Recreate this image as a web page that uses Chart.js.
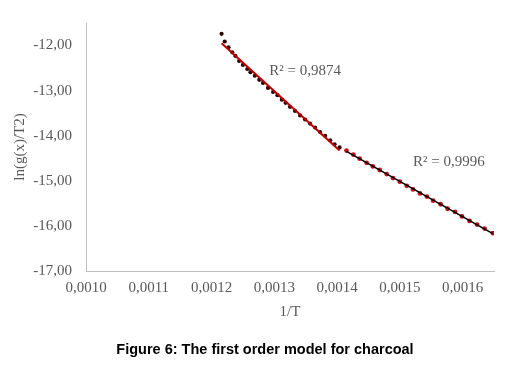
<!DOCTYPE html>
<html>
<head>
<meta charset="utf-8">
<script src="https://cdn.jsdelivr.net/npm/chart.js@4.4.1/dist/chart.umd.min.js"></script>
<style>
  html, body { margin: 0; padding: 0; background: #fff; }
  #wrap { width: 530px; height: 367px; }
</style>
</head>
<body>
<div id="wrap"><canvas id="kineticChart"></canvas></div>
<script>
// data (1/T vs ln(g(x)/T2))
const xHigh = [0.001216, 0.001221, 0.001227, 0.001233, 0.001238, 0.001244, 0.001250, 0.001257, 0.001262, 0.001269,
    0.001276, 0.001282, 0.001290, 0.001298, 0.001305, 0.001312, 0.001318, 0.001325, 0.001333, 0.001341,
    0.001349, 0.001357, 0.001365, 0.001373, 0.001381, 0.001389, 0.001396, 0.001404];
const yHigh = [-11.74, -11.91, -12.04, -12.15, -12.23, -12.34, -12.43, -12.52, -12.59, -12.67,
    -12.76, -12.83, -12.94, -13.03, -13.10, -13.20, -13.27, -13.36, -13.45, -13.55,
    -13.64, -13.73, -13.82, -13.92, -14.00, -14.10, -14.19, -14.26];

const xLow = [0.001415, 0.001426, 0.001436, 0.001447, 0.001457, 0.001468, 0.001479, 0.001489, 0.001500, 0.001511,
    0.001521, 0.001532, 0.001543, 0.001553, 0.001565, 0.001576, 0.001588, 0.001599, 0.001611, 0.001623,
    0.001635, 0.001648];
const yLow = [-14.33, -14.42, -14.51, -14.60, -14.68, -14.76, -14.85, -14.94, -15.02, -15.11,
    -15.19, -15.28, -15.35, -15.44, -15.52, -15.62, -15.69, -15.79, -15.89, -15.97,
    -16.06, -16.16];

// tick labels
const xTicks = [0.0010, 0.0011, 0.0012, 0.0013, 0.0014, 0.0015, 0.0016];
const yTicks = [-17, -16, -15, -14, -13, -12];

// trendline labels and caption
const r2Labels = ['R\u00b2 = 0,9874', 'R\u00b2 = 0,9996'];
const caption = 'Figure 6: The first order model for charcoal';

function toPoints(xs, ys) {
    return xs.map((x, i) => ({ x: x, y: ys[i] }));
}

// least squares line over the series, drawn between its first and last x
function trendLine(xs, ys) {
    var n = xs.length, sx = 0, sy = 0, sxx = 0, sxy = 0;
    for (var i = 0; i < n; i++) {
        sx += xs[i]; sy += ys[i]; sxx += xs[i] * xs[i]; sxy += xs[i] * ys[i];
    }
    var b = (n * sxy - sx * sy) / (n * sxx - sx * sx);
    var a = (sy - b * sx) / n;
    var x0 = xs[0], x1 = xs[n - 1];
    return [{ x: x0, y: a + b * x0 }, { x: x1, y: a + b * x1 }];
}

const grey = '#595959';
const serif = "'Liberation Serif', 'Times New Roman', serif";

// draws the two R2 notes and the figure caption
const notesPlugin = {
    id: 'notes',
    afterDraw(chart) {
        const ctx = chart.ctx;
        const xs = chart.scales.x, ys = chart.scales.y;
        const spots = [[0.001349, -12.57], [0.001578, -14.58]];
        ctx.save();
        ctx.font = '15px ' + serif;
        ctx.fillStyle = grey;
        ctx.textAlign = 'center';
        ctx.textBaseline = 'middle';
        r2Labels.forEach((t, i) => {
            ctx.fillText(t, xs.getPixelForValue(spots[i][0]), ys.getPixelForValue(spots[i][1]));
        });
        ctx.font = "bold 14.5px 'Liberation Sans', Arial, sans-serif";
        ctx.fillStyle = '#000';
        ctx.fillText(caption, chart.width / 2, chart.height - 17);
        ctx.restore();
    }
};

const kineticCtx = document.getElementById('kineticChart');

var kineticChart = new Chart(kineticCtx, {
    type: 'scatter',
    data: {
        datasets: [
            {
                label: 'fit high',
                type: 'line',
                data: trendLine(xHigh, yHigh),
                borderColor: '#c00000',
                borderWidth: 2,
                pointRadius: 0,
                order: 0
            },
            {
                label: 'fit low',
                type: 'line',
                data: trendLine(xLow, yLow),
                borderColor: '#000000',
                borderWidth: 1.5,
                pointRadius: 0,
                order: 0
            },
            {
                label: 'high',
                data: toPoints(xHigh, yHigh),
                backgroundColor: '#2a0404',
                borderColor: '#2a0404',
                borderWidth: 0,
                pointRadius: 2.1,
                order: 1
            },
            {
                label: 'low',
                data: toPoints(xLow, yLow),
                backgroundColor: '#cc1111',
                borderColor: '#cc1111',
                borderWidth: 0,
                pointRadius: 2.4,
                order: 1
            }
        ]
    },
    options: {
        responsive: true,
        maintainAspectRatio: false,
        animation: false,
        layout: { padding: { left: 0, right: 36, top: 21, bottom: 42 } },
        plugins: {
            legend: { display: false },
            tooltip: { enabled: false },
            title: { display: false }
        },
        scales: {
            x: {
                type: 'linear',
                min: 0.0010,
                max: 0.00165,
                grid: { display: false, drawTicks: false },
                border: { display: true, color: '#bfbfbf', width: 1 },
                afterBuildTicks: (s) => { s.ticks = xTicks.map(v => ({ value: v })); },
                afterFit: (s) => { s.height = 54; },
                ticks: {
                    color: grey,
                    font: { family: serif, size: 15 },
                    padding: 8,
                    maxRotation: 0,
                    callback: (v) => v.toFixed(4).replace('.', ',')
                },
                title: {
                    display: true,
                    text: '1/T',
                    color: grey,
                    font: { family: serif, size: 15 },
                    padding: { top: 0, bottom: 4 }
                }
            },
            y: {
                type: 'linear',
                min: -17,
                max: -11.5,
                grid: { display: false, drawTicks: false },
                border: { display: true, color: '#bfbfbf', width: 1 },
                afterBuildTicks: (s) => { s.ticks = yTicks.map(v => ({ value: v })); },
                afterFit: (s) => { s.width = 86; },
                ticks: {
                    color: grey,
                    font: { family: serif, size: 15 },
                    padding: 14,
                    callback: (v) => v.toFixed(2).replace('.', ',')
                },
                title: {
                    display: true,
                    text: 'ln(g(x)/T2)',
                    color: grey,
                    font: { family: serif, size: 15 },
                    padding: { top: 11, bottom: 0 }
                }
            }
        }
    },
    plugins: [notesPlugin]
});
</script>
</body>
</html>
